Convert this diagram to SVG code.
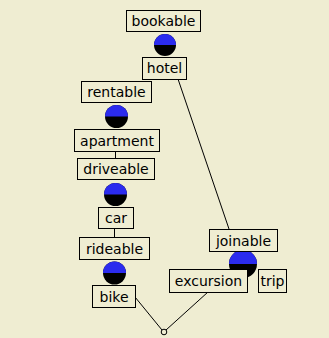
<svg xmlns="http://www.w3.org/2000/svg" width="329" height="338" viewBox="0 0 329 338">
  <style>
    .bg { fill: #efedd2; }
    .box { fill: #efedd2; stroke: #000; stroke-width: 1; }
    .lbl { font-family: "DejaVu Sans", "Liberation Sans", sans-serif; font-size: 14px; fill: #000; text-anchor: middle; }
    .edge { fill: none; stroke: #000; stroke-width: 1; }
    .low { fill: #000; }
    .high { fill: #2b2bee; }
    .knot { fill: #efedd2; stroke: #000; stroke-width: 1; }
  </style>
  <rect class="bg" x="0" y="0" width="329" height="338"/>

  <!-- connectors -->
  <g id="connectors">
    <line class="edge" x1="178" y1="79" x2="229" y2="229"/>
    <line class="edge" x1="115.5" y1="152" x2="115.5" y2="158"/>
    <line class="edge" x1="114.5" y1="229" x2="114.5" y2="237"/>
    <line class="edge" x1="135" y1="297" x2="162" y2="330"/>
    <line class="edge" x1="166" y1="330" x2="208" y2="292"/>
    <circle class="knot" cx="164" cy="332" r="2.8"/>
  </g>

  <!-- inheritance joints: blue upper half, black lower half -->
  <g id="joint-bookable">
    <circle class="low" cx="165" cy="45" r="11"/>
    <path class="high" d="M154,45 A11,11 0 0 1 176,45 Z"/>
  </g>
  <g id="joint-rentable">
    <circle class="low" cx="116.5" cy="116.5" r="11.5"/>
    <path class="high" d="M105,116.5 A11.5,11.5 0 0 1 128,116.5 Z"/>
  </g>
  <g id="joint-driveable">
    <circle class="low" cx="115.5" cy="194.5" r="11.5"/>
    <path class="high" d="M104,194.5 A11.5,11.5 0 0 1 127,194.5 Z"/>
  </g>
  <g id="joint-rideable">
    <circle class="low" cx="114.5" cy="273" r="11.5"/>
    <path class="high" d="M103,273 A11.5,11.5 0 0 1 126,273 Z"/>
  </g>
  <g id="joint-joinable">
    <circle class="low" cx="243" cy="264" r="14"/>
    <path class="high" d="M229,264 A14,14 0 0 1 257,264 Z"/>
  </g>

  <!-- nodes -->
  <g id="bookable">
    <rect class="box" x="126.5" y="10.5" width="74" height="21"/>
    <text class="lbl" x="163.5" y="26">bookable</text>
  </g>
  <g id="hotel">
    <rect class="box" x="142.5" y="57.5" width="44" height="22"/>
    <text class="lbl" x="164.5" y="73">hotel</text>
  </g>
  <g id="rentable">
    <rect class="box" x="81.5" y="81.5" width="70" height="21"/>
    <text class="lbl" x="116.5" y="97">rentable</text>
  </g>
  <g id="apartment">
    <rect class="box" x="74.5" y="129.5" width="85" height="22"/>
    <text class="lbl" x="117" y="145.5">apartment</text>
  </g>
  <g id="driveable">
    <rect class="box" x="77.5" y="158.5" width="77" height="21"/>
    <text class="lbl" x="116" y="174">driveable</text>
  </g>
  <g id="car">
    <rect class="box" x="98.5" y="207.5" width="35" height="21"/>
    <text class="lbl" x="116" y="223">car</text>
  </g>
  <g id="rideable">
    <rect class="box" x="79.5" y="237.5" width="70" height="22"/>
    <text class="lbl" x="114.5" y="253.5">rideable</text>
  </g>
  <g id="bike">
    <rect class="box" x="92.5" y="285.5" width="43" height="22"/>
    <text class="lbl" x="114" y="301.5">bike</text>
  </g>
  <g id="joinable">
    <rect class="box" x="209.5" y="229.5" width="68" height="22"/>
    <text class="lbl" x="243.5" y="245.5">joinable</text>
  </g>
  <g id="excursion">
    <rect class="box" x="169.5" y="269.5" width="78" height="23"/>
    <text class="lbl" x="208.5" y="286">excursion</text>
  </g>
  <g id="trip">
    <rect class="box" x="258.5" y="269.5" width="28" height="23"/>
    <text class="lbl" x="272.5" y="286">trip</text>
  </g>
</svg>
